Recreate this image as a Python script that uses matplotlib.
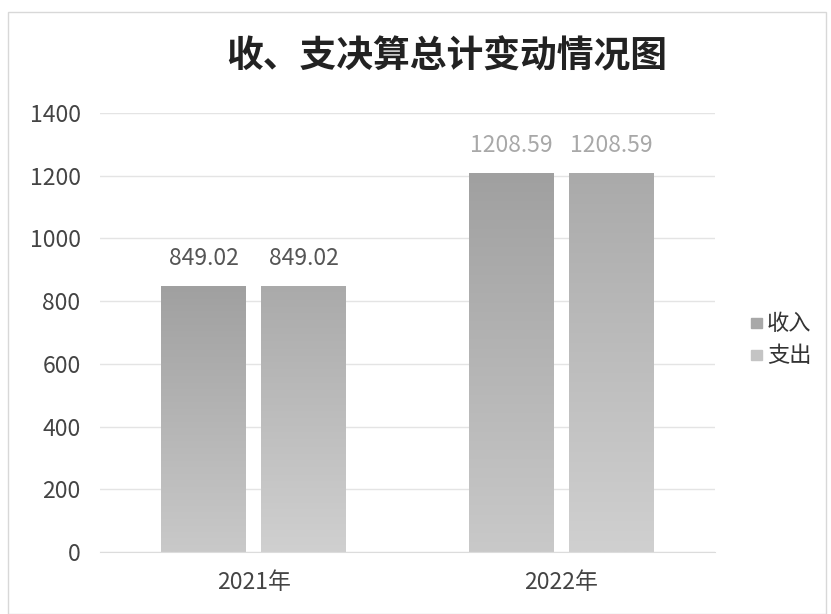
import numpy as np
import matplotlib
matplotlib.use("Agg")
import matplotlib.pyplot as plt
from matplotlib.colors import LinearSegmentedColormap
from matplotlib.patches import Rectangle

plt.rcParams['font.family'] = ['Noto Sans CJK SC', 'DejaVu Sans']

years = ["2021年", "2022年"]
series = ["收入", "支出"]
income = [849.02, 1208.59]
expense = [849.02, 1208.59]
label_colors = ["#555555", "#a8a8a8"]

# gradient per series: top colour -> bottom colour
grads = [("#a0a0a0", "#c9c9c9"), ("#aaaaaa", "#d0d0d0")]
legend_cols = ["#a8a8a8", "#c4c4c4"]

fig = plt.figure(figsize=(8.31, 6.14), dpi=100)
ax = fig.add_axes([100/831, 1 - 552/614, 615/831, (552 - 113)/614])

x = np.arange(len(years))
w = 0.276
gap = 0.049
offs = [-(w + gap) / 2, (w + gap) / 2]
grad = np.linspace(1, 0, 256).reshape(-1, 1)

for k, vals in enumerate([income, expense]):
    bars = ax.bar(x + offs[k], vals, w, color="none", edgecolor="none", zorder=2)
    cmap = LinearSegmentedColormap.from_list("g%d" % k, [grads[k][1], grads[k][0]])
    for b, v, xi in zip(bars, vals, x):
        x0 = b.get_x()
        im = ax.imshow(grad, cmap=cmap, aspect="auto", extent=[x0, x0 + w, 0, v],
                       origin="upper", zorder=2, vmin=0, vmax=1)
        im.set_clip_path(b)
        ax.text(x0 + w / 2, v + 50, f"{v:.2f}", ha="center", va="bottom",
                fontsize=16.5, color=label_colors[xi])

ax.set_xlim(-0.5, 1.5)
ax.set_ylim(0, 1400)
ax.set_yticks(np.arange(0, 1401, 200))
ax.set_xticks(x)
ax.set_xticklabels(years)
ax.grid(axis="y", color="#e4e4e4", linewidth=1, zorder=0)
ax.set_axisbelow(True)
for s in ["top", "right", "left"]:
    ax.spines[s].set_visible(False)
ax.spines["bottom"].set_color("#dcdcdc")
ax.tick_params(axis="both", length=0, labelsize=16.5, labelcolor="#444444")
ax.tick_params(axis="y", pad=14)
ax.tick_params(axis="x", pad=14)

fig.text(447/831, 1 - 57/614, "收、支决算总计变动情况图", ha="center", va="center",
         fontsize=26.5, fontweight="bold", color="#222222")

# legend
for i, name in enumerate(series):
    yy = 1 - (323 + 32 * i) / 614
    fig.patches.append(Rectangle((751/831, yy - 5/614), 11/831, 10/614,
                                 transform=fig.transFigure, color=legend_cols[i]))
    fig.text(767/831, yy, name, ha="left", va="center", fontsize=16, color="#333333")

# outer frame
fig.patches.append(Rectangle((8/831, 0), 818/831, 1 - 12/614, transform=fig.transFigure,
                             fill=False, edgecolor="#d8d8d8", linewidth=1))

fig.savefig("out.png", dpi=100)
